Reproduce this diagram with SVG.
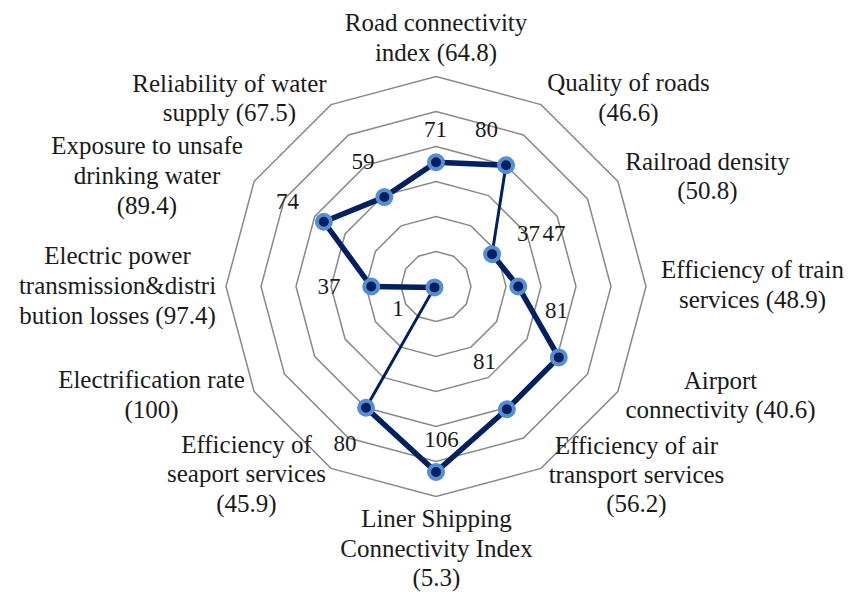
<svg xmlns="http://www.w3.org/2000/svg" width="853" height="592" viewBox="0 0 853 592">
<style>
.grid{fill:none;stroke:#898989;stroke-width:1.5}
.cat{font-size:25px;fill:#1a1a1a;text-anchor:middle}
.val{font-size:23px;fill:#1a1a1a;text-anchor:middle}
.thick{stroke:#002060;stroke-width:5.5;stroke-linecap:round;fill:none}
.thin{stroke:#002060;stroke-width:3;stroke-linecap:round;fill:none}
.mk{fill:#002060;stroke:#558ED5;stroke-width:4}
</style>
<rect width="853" height="592" fill="#ffffff"/>
<g id="grid">
<polygon class="grid" points="436,251.5 453.5,256.19 466.31,269 471,286.5 466.31,304 453.5,316.81 436,321.5 418.5,316.81 405.69,304 401,286.5 405.69,269 418.5,256.19"/>
<polygon class="grid" points="436,216.5 471,225.88 496.62,251.5 506,286.5 496.62,321.5 471,347.12 436,356.5 401,347.12 375.38,321.5 366,286.5 375.38,251.5 401,225.88"/>
<polygon class="grid" points="436,181.5 488.5,195.57 526.93,234 541,286.5 526.93,339 488.5,377.43 436,391.5 383.5,377.43 345.07,339 331,286.5 345.07,234 383.5,195.57"/>
<polygon class="grid" points="436,146.5 506,165.26 557.24,216.5 576,286.5 557.24,356.5 506,407.74 436,426.5 366,407.74 314.76,356.5 296,286.5 314.76,216.5 366,165.26"/>
<polygon class="grid" points="436,111.5 523.5,134.95 587.55,199 611,286.5 587.55,374 523.5,438.05 436,461.5 348.5,438.05 284.45,374 261,286.5 284.45,199 348.5,134.95"/>
<polygon class="grid" points="436,76.5 541,104.63 617.87,181.5 646,286.5 617.87,391.5 541,468.37 436,496.5 331,468.37 254.13,391.5 226,286.5 254.13,181.5 331,104.63"/>
</g>
<g id="connectors">
<line class="thick" x1="436" y1="162.25" x2="506" y2="165.26"/>
<line class="thin" x1="506" y1="165.26" x2="492.07" y2="254.13"/>
<line class="thick" x1="492.07" y1="254.13" x2="518.25" y2="286.5"/>
<line class="thick" x1="518.25" y1="286.5" x2="558.76" y2="357.38"/>
<line class="thick" x1="558.76" y1="357.38" x2="506.88" y2="409.26"/>
<line class="thick" x1="506.88" y1="409.26" x2="436" y2="472"/>
<line class="thick" x1="436" y1="472" x2="366" y2="407.74"/>
<line class="thin" x1="366" y1="407.74" x2="434.48" y2="287.38"/>
<line class="thick" x1="434.48" y1="287.38" x2="371.25" y2="286.5"/>
<line class="thick" x1="371.25" y1="286.5" x2="323.85" y2="221.75"/>
<line class="thick" x1="323.85" y1="221.75" x2="384.38" y2="197.08"/>
<line class="thick" x1="384.38" y1="197.08" x2="436" y2="162.25"/>
</g>
<g id="nodes" font-family="Liberation Serif, Times New Roman, Times, serif">
<g id="node-road-connectivity">
<text class="cat" x="436" y="31">Road connectivity</text>
<text class="cat" x="436" y="60.5">index (64.8)</text>
<circle class="mk" cx="436" cy="162.25" r="7"/>
<text class="val" x="435.5" y="137">71</text>
</g>
<g id="node-quality-roads">
<text class="cat" x="628.5" y="91">Quality of roads</text>
<text class="cat" x="628.5" y="120.5">(46.6)</text>
<circle class="mk" cx="506" cy="165.26" r="7"/>
<text class="val" x="486.5" y="137">80</text>
</g>
<g id="node-railroad-density">
<text class="cat" x="707.5" y="169.5">Railroad density</text>
<text class="cat" x="707.5" y="199">(50.8)</text>
<circle class="mk" cx="492.07" cy="254.13" r="7"/>
<text class="val" x="528.5" y="241">37</text>
</g>
<g id="node-train-services">
<text class="cat" x="752.5" y="278">Efficiency of train</text>
<text class="cat" x="752.5" y="308">services (48.9)</text>
<circle class="mk" cx="518.25" cy="286.5" r="7"/>
<text class="val" x="554" y="241">47</text>
</g>
<g id="node-airport-connectivity">
<text class="cat" x="720.5" y="388.5">Airport</text>
<text class="cat" x="720.5" y="418">connectivity (40.6)</text>
<circle class="mk" cx="558.76" cy="357.38" r="7"/>
<text class="val" x="556.5" y="318">81</text>
</g>
<g id="node-air-transport">
<text class="cat" x="636.5" y="453.5">Efficiency of air</text>
<text class="cat" x="636.5" y="483">transport services</text>
<text class="cat" x="636.5" y="512">(56.2)</text>
<circle class="mk" cx="506.88" cy="409.26" r="7"/>
<text class="val" x="484.5" y="368.5">81</text>
</g>
<g id="node-liner-shipping">
<text class="cat" x="436.5" y="527">Liner Shipping</text>
<text class="cat" x="436.5" y="556.5">Connectivity Index</text>
<text class="cat" x="436.5" y="586">(5.3)</text>
<circle class="mk" cx="436" cy="472" r="7"/>
<text class="val" x="441.5" y="447">106</text>
</g>
<g id="node-seaport-services">
<text class="cat" x="246.5" y="452.5">Efficiency of</text>
<text class="cat" x="246.5" y="482">seaport services</text>
<text class="cat" x="246.5" y="511.5">(45.9)</text>
<circle class="mk" cx="366" cy="407.74" r="7"/>
<text class="val" x="345" y="451">80</text>
</g>
<g id="node-electrification-rate">
<text class="cat" x="151.5" y="387.5">Electrification rate</text>
<text class="cat" x="151.5" y="417.5">(100)</text>
<circle class="mk" cx="434.48" cy="287.38" r="7"/>
<text class="val" x="398" y="316">1</text>
</g>
<g id="node-power-losses">
<text class="cat" x="117.5" y="264">Electric power</text>
<text class="cat" x="117.5" y="293.5">transmission&amp;distri</text>
<text class="cat" x="117.5" y="323.5">bution losses (97.4)</text>
<circle class="mk" cx="371.25" cy="286.5" r="7"/>
<text class="val" x="329" y="293.5">37</text>
</g>
<g id="node-unsafe-water">
<text class="cat" x="147" y="153.5">Exposure to unsafe</text>
<text class="cat" x="147" y="183.5">drinking water</text>
<text class="cat" x="147" y="213.5">(89.4)</text>
<circle class="mk" cx="323.85" cy="221.75" r="7"/>
<text class="val" x="287.5" y="208.5">74</text>
</g>
<g id="node-water-reliability">
<text class="cat" x="229.5" y="92">Reliability of water</text>
<text class="cat" x="229.5" y="121">supply (67.5)</text>
<circle class="mk" cx="384.38" cy="197.08" r="7"/>
<text class="val" x="363" y="168.5">59</text>
</g>
</g>
</svg>
